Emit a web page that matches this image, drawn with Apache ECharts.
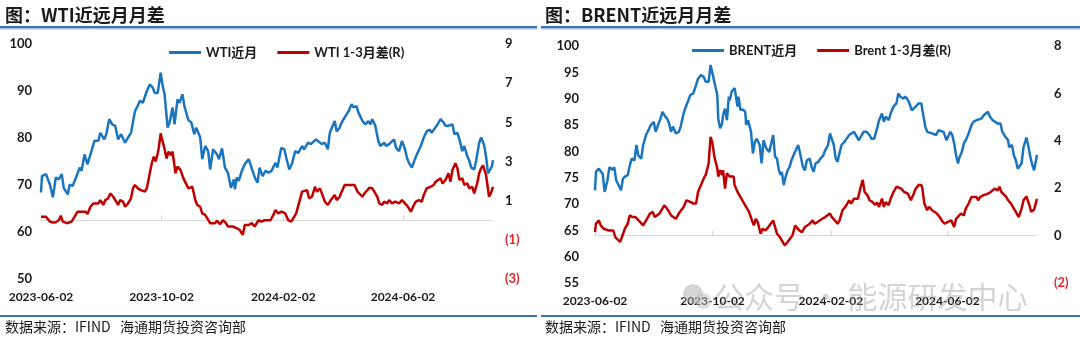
<!DOCTYPE html>
<html>
<head>
<meta charset="utf-8">
<script src="https://cdn.jsdelivr.net/npm/echarts@6/dist/echarts.min.js"></script>
<style>
html,body{margin:0;padding:0;background:#fff;}
#chart{width:1080px;height:342px;}
</style>
</head>
<body>
<div id="chart"></div>
<script>
// ---------- DATA (x = days since 2023-06-02) ----------
const xTickLabels = ['2023-06-02', '2023-10-02', '2024-02-02', '2024-06-02'];

const wtiPriceDays = [0,1,5,9,12,15,18,21,23,27,29,32,36,39,41,44,47,51,54,58,60,64,66,69,72,75,78,81,85,88,91,95,97,100,103,107,110,113,115,118,121,123,125,128,130,133,135,138,140,143,145,149,152,155,157,161,163,166,169,171,174,178,180,183,186,189,192,195,196,198,200,203,206,210,212,215,217,219,221,224,227,230,233,237,239,243,246,248,251,254,257,260,264,266,270,273,275,278,280,284,287,290,292,297,299,302,304,308,311,314,316,319,321,323,325,328,331,333,335,338,341,343,347,349,352,354,357,359,362,365,368,370,372,375,378,380,384,387,390,393,395,397,400,404,407,409,412,416,418,421,423,426,428,431,433,435,438,440,443,445,446,448,450,452,454,456,457];
const wtiPrice = [68.4,71.9,72.3,70.1,67.4,71.6,71.2,72.3,69.4,68.0,70.1,69.8,71.9,73.7,73.0,76.5,74.4,77.2,79.4,79.4,81.1,79.7,80.8,84.0,82.9,82.6,79.7,80.8,79.0,80.1,81.1,85.7,86.5,87.9,87.5,90.0,91.4,90.7,89.6,89.6,93.9,91.1,89.3,82.2,83.3,86.5,82.9,88.2,87.5,89.3,86.8,83.8,83.3,80.8,82.2,80.1,75.5,78.3,77.2,73.3,77.6,76.5,75.5,77.8,73.7,72.6,69.4,71.2,69.1,71.6,70.9,73.0,74.4,75.5,75.2,72.3,71.2,70.5,73.7,71.9,73.0,72.6,73.0,74.7,73.7,77.9,77.6,75.8,73.3,74.7,77.2,76.8,78.3,77.6,79.0,78.7,78.3,79.7,79.4,78.7,79.0,77.6,81.1,83.6,81.4,82.2,83.3,84.7,85.7,87.2,86.5,86.8,85.4,85.7,83.6,82.9,83.6,82.9,84.0,82.6,79.4,78.3,79.0,78.3,78.7,78.3,79.7,77.9,77.2,79.4,77.6,75.8,74.7,73.7,75.5,76.5,78.3,80.1,81.4,81.8,81.1,81.4,82.6,84.0,83.3,82.6,82.6,82.9,80.8,81.1,79.7,77.2,78.3,76.1,75.2,73.7,73.3,75.2,79.0,80.1,80.3,78.5,76.0,72.5,73.2,74.0,75.3];

const wtiSpreadDays = [0,5,9,12,15,18,20,22,26,28,31,34,37,40,42,45,47,50,53,55,58,60,63,65,68,70,73,75,78,80,83,85,88,91,93,95,98,101,105,107,110,112,114,116,118,119,121,123,124,127,129,131,133,136,138,141,144,146,149,151,153,156,158,161,163,166,168,171,173,176,178,181,184,187,189,191,194,198,201,204,206,208,210,213,216,218,220,223,226,228,232,235,237,240,243,247,250,253,255,258,260,264,266,269,271,274,277,279,282,284,287,290,293,297,299,302,304,307,309,312,314,317,320,322,325,327,330,332,335,337,340,342,345,347,350,352,355,358,362,365,368,371,374,377,379,382,385,387,390,394,397,399,401,404,406,409,412,414,416,419,421,423,426,428,431,433,436,438,441,443,445,447,450,453,455,457];
const wtiSpread = [0.18,0.18,-0.07,-0.12,-0.10,0.0,0.23,-0.07,-0.15,-0.2,-0.07,0.18,0.44,0.44,0.35,0.44,0.32,0.69,0.86,0.95,0.86,1.03,0.78,1.03,1.12,1.37,1.2,1.12,0.78,1.03,0.95,0.69,0.86,1.12,1.63,1.8,1.63,1.54,1.46,1.63,2.4,2.91,3.25,3.0,3.42,3.68,4.44,4.01,3.84,3.16,3.5,3.33,3.5,2.4,2.74,2.57,2.14,2.23,1.63,1.63,1.71,1.03,0.78,0.69,0.35,0.27,0.35,-0.15,-0.07,-0.15,-0.03,-0.2,0.0,-0.15,-0.32,-0.24,-0.32,-0.41,-0.5,-0.75,-0.24,-0.15,-0.24,-0.15,-0.32,-0.24,0.0,-0.07,0.0,-0.07,0.0,0.27,0.52,0.35,0.44,0.35,0.0,-0.07,0.1,0.35,0.44,1.46,1.37,1.54,1.12,1.2,1.71,1.46,1.63,1.37,0.95,0.78,1.03,1.29,1.03,1.2,1.46,1.8,1.88,1.8,1.85,1.8,1.46,1.37,1.2,1.37,1.54,1.66,1.63,1.46,1.2,0.86,0.78,0.95,0.86,1.03,0.86,0.95,0.86,1.03,0.86,0.69,0.44,0.78,0.95,1.03,0.95,1.29,1.63,1.71,1.8,1.97,1.88,2.14,1.88,2.06,2.4,1.97,2.57,2.91,2.66,2.06,2.14,1.8,1.88,1.63,1.71,1.37,1.88,2.4,2.66,2.8,2.3,1.2,1.4,1.7];

const brentPriceDays = [0,1,4,6,8,10,13,15,16,18,20,22,24,27,29,31,34,36,38,41,43,45,48,50,53,55,58,61,63,66,68,70,73,75,77,79,81,84,87,89,92,95,97,99,102,105,107,110,113,115,118,120,122,125,127,128,130,132,133,135,137,139,140,142,145,148,149,151,154,156,157,159,162,164,166,168,171,173,175,178,181,183,185,187,189,191,193,194,196,198,200,202,204,207,209,211,213,216,218,220,223,225,227,229,232,234,237,239,242,244,246,248,250,252,253,256,259,261,264,266,269,271,274,277,279,282,285,287,290,293,295,298,300,302,305,307,310,313,315,317,320,322,324,326,329,331,333,336,339,340,343,345,347,350,352,354,357,359,362,365,367,369,371,373,375,377,378,381,383,385,388,391,393,396,398,401,404,406,408,410,413,415,418,421,423,426,429,430,433,435,437,439,441,443,445,448,450,452,454,456,459];
const brentPrice = [72.6,76.1,76.7,76.9,75.7,72.3,74.5,77.0,76.7,76.5,77.0,74.5,74.2,72.6,74.8,75.2,75.5,77.2,78.6,78.3,81.2,79.2,78.6,81.2,83.1,82.8,85.0,85.6,83.7,85.3,86.2,87.5,86.6,86.2,85.3,83.7,84.7,83.4,83.7,84.7,87.2,88.8,89.7,90.7,91.0,92.6,93.8,94.5,94.1,93.2,93.2,96.4,94.8,92.3,90.7,86.2,84.4,85.3,86.9,88.1,85.9,90.4,89.7,91.4,92.0,88.5,90.4,87.9,87.9,87.5,85.0,85.9,83.7,79.6,81.8,82.4,81.2,77.7,82.1,80.5,79.9,81.5,83.1,79.0,78.6,76.4,75.5,76.1,73.6,75.2,76.4,77.0,78.3,79.6,79.9,81.2,79.6,77.0,76.4,78.3,78.6,77.0,76.1,77.7,78.0,78.6,79.2,80.2,81.2,83.4,83.1,81.2,78.6,78.0,79.0,81.2,81.8,82.1,83.1,83.4,83.7,83.4,82.1,83.1,83.7,83.7,83.1,82.4,82.4,84.4,85.9,87.2,85.6,86.6,85.9,87.2,88.5,89.1,91.0,90.4,90.0,90.4,90.0,89.4,87.8,87.5,88.5,89.1,89.1,87.8,84.7,83.7,84.0,83.4,83.7,83.1,84.0,84.0,83.7,82.1,81.8,83.7,83.1,81.5,79.2,77.7,78.6,79.9,81.5,82.1,83.4,85.0,85.6,85.9,85.9,86.2,86.9,87.2,87.5,86.6,85.9,85.6,85.3,85.3,83.7,82.8,82.1,80.8,81.2,79.2,78.3,76.7,76.4,77.7,80.8,82.6,81.0,79.0,77.5,76.4,79.3];

const brentSpreadDays = [0,1,4,6,9,11,14,16,19,21,23,26,28,31,34,36,39,42,44,47,50,52,54,57,60,62,64,67,69,72,74,76,79,81,84,87,89,92,95,97,99,102,105,107,110,113,115,118,120,122,124,127,128,130,132,133,135,137,140,142,144,145,148,150,153,156,158,160,163,165,167,169,172,174,177,180,182,185,187,189,192,194,197,200,202,205,208,210,212,215,218,220,223,226,228,231,233,236,239,241,244,246,249,252,254,257,260,262,264,266,269,271,273,276,278,280,283,285,288,291,293,295,298,300,302,305,307,310,313,315,318,321,323,325,328,331,333,336,339,340,342,345,347,350,352,355,358,360,363,366,368,370,373,375,377,380,383,385,388,391,393,396,398,400,403,405,408,411,413,415,418,420,422,424,427,429,432,435,437,440,443,445,448,451,453,456,459];
const brentSpread = [0.15,0.5,0.64,0.43,0.29,0.29,0.22,0.29,0.22,-0.06,-0.06,-0.27,-0.06,0.29,0.5,0.85,0.78,0.78,0.85,0.57,0.43,0.57,0.71,0.93,1.0,0.78,0.85,0.93,1.07,1.28,1.35,1.07,0.85,0.78,0.71,0.93,1.0,1.21,1.49,1.42,1.42,1.35,1.35,1.84,2.13,2.42,2.56,3.04,4.17,3.89,3.32,2.83,2.49,2.76,2.56,2.76,1.98,2.63,2.49,2.56,2.49,2.13,1.84,1.77,1.49,1.28,1.21,1.0,0.64,0.43,0.71,0.57,0.08,0.29,0.22,0.36,0.29,0.64,0.36,0.08,-0.06,-0.2,-0.41,-0.27,-0.2,0.01,0.43,0.43,0.22,0.15,0.36,0.29,0.5,0.64,0.5,0.57,0.64,0.71,0.78,0.85,0.93,0.78,0.64,0.5,0.64,1.07,1.21,1.35,1.49,1.35,1.56,1.63,1.56,2.06,2.35,1.84,1.7,1.49,1.42,1.3,1.4,1.21,1.56,1.21,1.42,1.28,1.56,1.84,2.06,1.98,1.98,1.84,1.91,1.77,1.49,1.77,1.98,2.13,2.13,1.98,1.35,1.07,1.21,1.07,1.0,0.93,0.78,0.64,0.5,0.57,0.64,0.64,0.36,0.71,0.64,0.93,0.85,1.14,1.35,1.63,1.7,1.63,1.49,1.63,1.7,1.63,1.77,1.84,1.77,1.98,1.91,2.06,1.84,1.77,1.63,1.49,1.35,1.14,1.0,0.78,1.14,1.49,1.65,1.3,1.0,1.1,1.55];

// ---------- BUILD ----------
const DAY = 86400000;
const startUtc = Date.UTC(2023, 5, 2);
function dayOf(s) { const p = s.split('-').map(Number); return Math.round((Date.UTC(p[0], p[1] - 1, p[2]) - startUtc) / DAY); }
const xTickDays = xTickLabels.map(dayOf);
function pairs(days, vals) { return days.map((d, i) => [d, vals[i]]); }

const BLUE = '#1b75be', RED = '#c00000', TXT = '#1a1a1a', NEG = '#e3262d';
const numFont = 'Lato, "Noto Sans CJK SC", sans-serif';
const cjkFont = '"Noto Sans CJK SC", sans-serif';

function xAxisCfg(gi, maxDay) {
  return {
    type: 'value', gridIndex: gi, min: 0, max: maxDay,
    axisLine: { show: true, lineStyle: { color: '#d9d9d9', width: 1 } },
    axisTick: { show: true, inside: true, length: 5, customValues: xTickDays, lineStyle: { color: '#d9d9d9' } },
    axisLabel: {
      customValues: xTickDays, margin: 12, color: TXT, fontSize: 12, fontWeight: 'bold', fontFamily: numFont,
      formatter: function (v) { const i = xTickDays.indexOf(v); return i >= 0 ? xTickLabels[i] : ''; }
    },
    splitLine: { show: false }
  };
}
function leftY(gi, min, max, interval, margin) {
  return {
    type: 'value', gridIndex: gi, position: 'left', min: min, max: max, interval: interval,
    axisLine: { show: false }, axisTick: { show: false }, splitLine: { show: false },
    axisLabel: { margin: margin, color: TXT, fontSize: 13, fontWeight: 'bold', fontFamily: numFont }
  };
}
function rightY(gi, min, max, values, margin) {
  return {
    type: 'value', gridIndex: gi, position: 'right', min: min, max: max,
    axisLine: { show: false }, axisTick: { show: false }, splitLine: { show: false },
    axisLabel: {
      customValues: values, margin: margin, color: TXT, fontSize: 13, fontWeight: 'bold', fontFamily: numFont,
      formatter: function (v) { return v < 0 ? '{n|(' + Math.abs(v) + ')}' : String(v); },
      rich: { n: { color: NEG, fontSize: 13, fontWeight: 'bold', fontFamily: numFont } }
    }
  };
}
function lineSeries(name, xi, yi, data, color) {
  return { name: name, type: 'line', xAxisIndex: xi, yAxisIndex: yi, data: data, showSymbol: false, symbol: 'none',
    lineStyle: { color: color, width: 2.5 }, itemStyle: { color: color }, animation: false };
}
function legendCfg(names, left, top) {
  return { data: names, left: left, top: top, icon: 'rect', itemWidth: 32, itemHeight: 3, itemGap: 20, padding: 0,
    textStyle: { color: TXT, fontSize: 13, fontWeight: 'bold', fontFamily: numFont } };
}

const chart = echarts.init(document.getElementById('chart'), null, { renderer: 'canvas' });
chart.setOption({
  animation: false,
  backgroundColor: '#fff',
  grid: [
    { left: 41, top: 44, width: 452, height: 235 },
    { left: 595, top: 46, width: 442, height: 237 }
  ],
  xAxis: [xAxisCfg(0, 457), xAxisCfg(1, 459)],
  yAxis: [
    leftY(0, 50, 100, 10, 9),
    rightY(0, -3, 9, [-3, -1, 1, 3, 5, 7, 9], 12),
    leftY(1, 55, 100, 5, 16),
    rightY(1, -2, 8, [-2, 0, 2, 4, 6, 8], 17)
  ],
  legend: [
    legendCfg(['WTI近月', 'WTI 1-3月差(R)'], 169, 46),
    legendCfg(['BRENT近月', 'Brent 1-3月差(R)'], 692, 44)
  ],
  series: [
    lineSeries('WTI近月', 0, 0, pairs(wtiPriceDays, wtiPrice), BLUE),
    lineSeries('WTI 1-3月差(R)', 0, 1, pairs(wtiSpreadDays, wtiSpread), RED),
    lineSeries('BRENT近月', 1, 2, pairs(brentPriceDays, brentPrice), BLUE),
    lineSeries('Brent 1-3月差(R)', 1, 3, pairs(brentSpreadDays, brentSpread), RED)
  ],
  graphic: [
    { type: 'text', x: 5, y: 15, style: { text: '图：WTI近远月月差', font: 'bold 18px ' + cjkFont, fill: TXT, verticalAlign: 'middle', textVerticalAlign: 'middle' } },
    { type: 'text', x: 545, y: 15, style: { text: '图：BRENT近远月月差', font: 'bold 18px ' + cjkFont, fill: TXT, verticalAlign: 'middle', textVerticalAlign: 'middle' } },
    { type: 'rect', shape: { x: 0, y: 26, width: 537, height: 2 }, style: { fill: '#3b73b3' } },
    { type: 'rect', shape: { x: 0, y: 28, width: 537, height: 1.5 }, style: { fill: '#a9c4e4' } },
    { type: 'rect', shape: { x: 541, y: 26, width: 539, height: 2 }, style: { fill: '#3b73b3' } },
    { type: 'rect', shape: { x: 541, y: 28, width: 539, height: 1.5 }, style: { fill: '#a9c4e4' } },
    { type: 'rect', shape: { x: 0, y: 315, width: 537, height: 2 }, style: { fill: '#3b73b3' } },
    { type: 'rect', shape: { x: 541, y: 315, width: 539, height: 2 }, style: { fill: '#3b73b3' } },
    { type: 'text', x: 5, y: 327, style: { text: '数据来源：IFIND   海通期货投资咨询部', font: '14px ' + cjkFont, fill: TXT, verticalAlign: 'middle', textVerticalAlign: 'middle' } },
    { type: 'text', x: 545, y: 327, style: { text: '数据来源：IFIND   海通期货投资咨询部', font: '14px ' + cjkFont, fill: TXT, verticalAlign: 'middle', textVerticalAlign: 'middle' } },
    { type: 'circle', z: 100, shape: { cx: 693, cy: 294, r: 10 }, style: { fill: 'rgba(170,170,170,0.5)' } },
    { type: 'circle', z: 100, shape: { cx: 703, cy: 301, r: 8 }, style: { fill: 'rgba(190,190,190,0.5)' } },
    { type: 'text', z: 100, x: 714, y: 297, style: { text: '公众号 · 能源研发中心', font: '30px ' + cjkFont, fill: 'rgba(160,160,160,0.45)', verticalAlign: 'middle', textVerticalAlign: 'middle' } }
  ]
});
</script>
</body>
</html>
